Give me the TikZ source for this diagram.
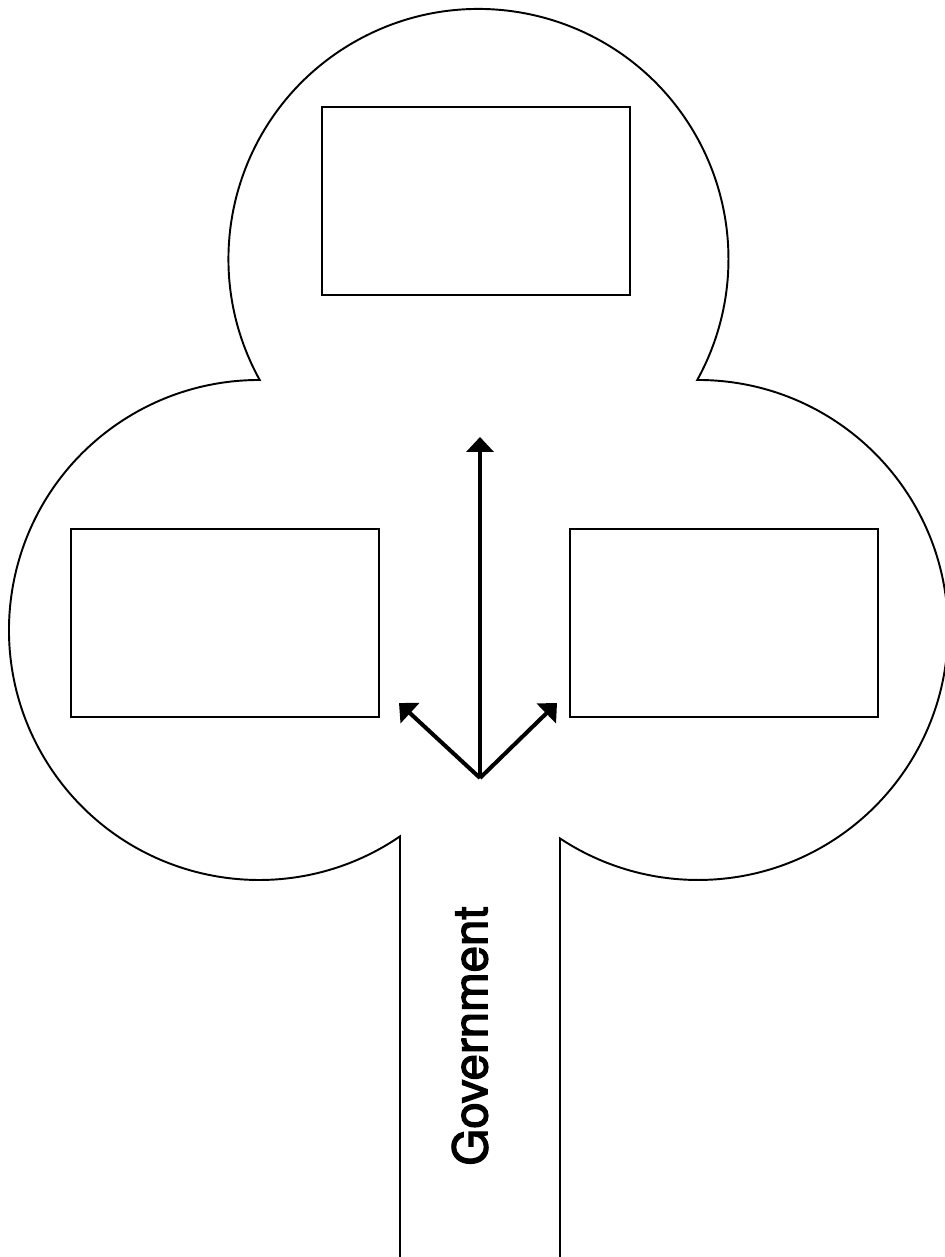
\documentclass[tikz,border=0pt]{standalone}
\usepackage{fontspec}
\setmainfont{TeX Gyre Heros}
\newfontfamily\govfont{TeX Gyre Heros}[FakeBold=2.6]
\usetikzlibrary{arrows.meta}

\begin{document}
\begin{tikzpicture}[x=0.02cm, y=0.02cm,
    outline/.style={line width=1.1pt},
    panel/.style={draw, line width=0.9pt, minimum width=6.16cm, minimum height=3.76cm, inner sep=0pt},
    branch/.style={line width=2.3pt, -{Triangle[width=0.54cm, length=0.3cm]}},
    trunktext/.style={rotate=90, inner sep=0pt, font=\govfont\fontsize{27}{30}\selectfont}]
    \useasboundingbox (0,0) rectangle (944,1257);
    \draw[outline] (400,0) -- (400,420.6)
        arc[start angle=-55.66, end angle=-270.17, radius=250]
        arc[start angle=208.95, end angle=-28.95, radius=250]
        arc[start angle=90.17, end angle=-123.5, radius=250]
        -- (560,0);
    \node[panel] (top) at (476,1056) {};
    \node[panel] (left) at (225,634) {};
    \node[panel] (right) at (724,634) {};
    \coordinate (root) at (480,479);
    \coordinate (up) at (480,820);
    \coordinate (upleft) at (399,554);
    \coordinate (upright) at (557,554);
    \draw[branch] (root) -- (up);
    \draw[branch] (root) -- (upleft);
    \draw[branch] (root) -- (upright);
    \node[trunktext] (gov) at (470,221) {Government};
\end{tikzpicture}
\end{document}
